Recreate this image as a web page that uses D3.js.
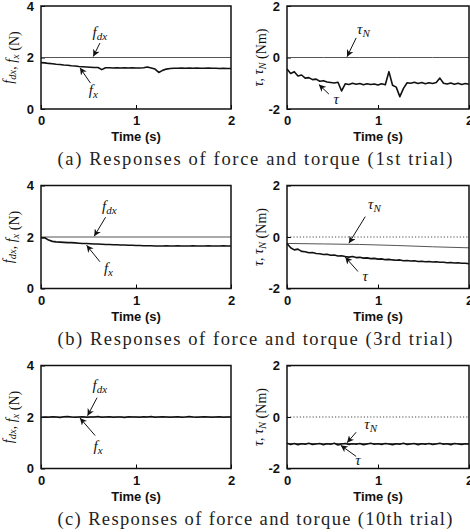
<!DOCTYPE html>
<html>
<head>
<meta charset="utf-8">
<script src="https://cdn.jsdelivr.net/npm/d3@7"></script>
<style>
  body { margin: 0; background: #fff; }
  svg { display: block; }
</style>
</head>
<body>
<div id="vis"></div>
<script>
// sample times (s)
let time = [
  0.00, 0.04, 0.08, 0.12, 0.16, 0.20, 0.24, 0.28, 0.32, 0.36,
  0.40, 0.44, 0.48, 0.52, 0.56, 0.60, 0.64, 0.68, 0.72, 0.76,
  0.80, 0.84, 0.88, 0.92, 0.96, 1.00, 1.04, 1.08, 1.12, 1.16,
  1.20, 1.24, 1.28, 1.32, 1.36, 1.40, 1.44, 1.48, 1.52, 1.56,
  1.60, 1.64, 1.68, 1.72, 1.76, 1.80, 1.84, 1.88, 1.92, 1.96,
  2.00
];
let refTime = [0.0, 0.4, 0.8, 1.2, 1.6, 2.0];

// (a) 1st trial
let fxA = [
  1.80, 1.79, 1.77, 1.76, 1.74, 1.73, 1.71, 1.70, 1.68, 1.67,
  1.65, 1.64, 1.63, 1.62, 1.61, 1.61, 1.53, 1.60, 1.60, 1.59,
  1.60, 1.59, 1.60, 1.59, 1.60, 1.59, 1.59, 1.60, 1.63, 1.59,
  1.55, 1.42, 1.50, 1.55, 1.57, 1.58, 1.58, 1.59, 1.58, 1.59,
  1.58, 1.59, 1.58, 1.58, 1.59, 1.58, 1.58, 1.57, 1.58, 1.57,
  1.57
];
let fdxA = [2.0, 2.0, 2.0, 2.0, 2.0, 2.0];
let tauA = [
  -0.45, -0.62, -0.55, -0.72, -0.68, -0.80, -0.78, -0.86, -0.84, -0.92,
  -0.90, -0.95, -0.97, -0.99, -0.96, -1.30, -1.02, -1.05, -1.00, -1.04,
  -1.01, -1.06, -1.02, -1.05, -1.03, -1.07, -1.02, -1.06, -0.55, -1.08,
  -1.15, -1.52, -1.20, -0.98, -1.00, -0.96, -1.01, -0.97, -1.02, -0.98,
  -1.01, -0.97, -0.80, -1.00, -1.03, -0.99, -1.04, -1.00, -1.05, -1.01,
  -1.04
];
let tauNA = [0.0, 0.0, 0.0, 0.0, 0.0, 0.0];

// (b) 3rd trial
let fxB = [
  1.96, 1.97, 1.88, 1.83, 1.81, 1.80, 1.79, 1.78, 1.78, 1.77,
  1.76, 1.75, 1.75, 1.74, 1.73, 1.73, 1.72, 1.71, 1.71, 1.70,
  1.70, 1.69, 1.69, 1.68, 1.68, 1.67, 1.67, 1.66, 1.66, 1.66,
  1.65, 1.65, 1.65, 1.66, 1.65, 1.65, 1.66, 1.65, 1.65, 1.65,
  1.66, 1.65, 1.65, 1.65, 1.66, 1.65, 1.65, 1.65, 1.66, 1.65,
  1.65
];
let fdxB = [2.0, 2.0, 2.0, 2.0, 2.0, 2.0];
let tauB = [
  -0.25, -0.42, -0.50, -0.47, -0.56, -0.57, -0.61, -0.60, -0.64, -0.65,
  -0.68, -0.67, -0.71, -0.70, -0.74, -0.73, -0.76, -0.78, -0.76, -0.80,
  -0.79, -0.82, -0.81, -0.84, -0.83, -0.86, -0.85, -0.88, -0.87, -0.89,
  -0.90, -0.89, -0.92, -0.91, -0.93, -0.92, -0.95, -0.94, -0.96, -0.95,
  -0.97, -0.96, -0.98, -0.98, -1.00, -0.99, -1.01, -1.00, -1.02, -1.02,
  -1.04
];
let tauNB = [-0.25, -0.27, -0.29, -0.33, -0.38, -0.42];

// (c) 10th trial
let fxC = [
  1.98, 2.00, 1.99, 2.01, 2.00, 1.98, 2.01, 2.02, 2.00, 1.99,
  2.00, 2.01, 1.99, 2.00, 2.00, 2.02, 1.99, 2.00, 2.01, 1.99,
  2.00, 2.00, 1.98, 2.01, 2.00, 2.00, 1.99, 2.01, 2.00, 2.02,
  1.99, 2.00, 2.01, 2.00, 1.99, 2.00, 2.01, 1.99, 2.00, 2.02,
  2.00, 1.99, 2.00, 2.01, 2.00, 1.99, 2.00, 2.01, 1.99, 2.00,
  2.00
];
let fdxC = [2.0, 2.0, 2.0, 2.0, 2.0, 2.0];
let tauC = [
  -1.02, -1.07, -1.03, -1.08, -1.04, -1.06, -1.02, -1.07, -1.05, -1.03,
  -1.08, -1.04, -1.06, -1.02, -1.09, -1.05, -1.03, -1.07, -1.04, -1.06,
  -1.03, -1.08, -1.05, -1.02, -1.06, -1.04, -1.07, -1.03, -1.05, -1.08,
  -1.04, -1.06, -1.02, -1.07, -1.05, -1.03, -1.08, -1.04, -1.06, -1.03,
  -1.07, -1.05, -1.02, -1.06, -1.04, -1.08, -1.03, -1.05, -1.07, -1.04,
  -1.06
];
let tauNC = [-1.03, -1.03, -1.03, -1.03, -1.03, -1.03];

let timeTicks = [0, 1, 2];
let forceTicks = [0, 2, 4];
let torqueTicks = [-2, 0, 2];
let captions = [
  "(a)  Responses of force and torque (1st trial)",
  "(b)  Responses of force and torque (3rd trial)",
  "(c)  Responses of force and torque (10th trial)"
];

let width = 470, height = 532;
let rowTop = [6, 185.5, 365.5], ph = 103;

let svg = d3.select('#vis')
  .append('svg')
  .attr('width', width)
  .attr('height', height)
  .style('background-color', 'white');

svg.append('defs').append('marker')
  .attr('id', 'arr')
  .attr('viewBox', '0 0 10 10')
  .attr('refX', 10).attr('refY', 5)
  .attr('markerWidth', 7).attr('markerHeight', 7)
  .attr('markerUnits', 'userSpaceOnUse')
  .attr('orient', 'auto')
  .append('path')
  .attr('d', 'M0,0 L10,5 L0,10 L3,5 Z')
  .attr('fill', '#111');

function drawPanel(top, xr, yDomain, yTicks, measured, ref, dottedZero, labelX, yLabel, notes) {
  let x = d3.scaleLinear().domain([0, 2]).range(xr);
  let y = d3.scaleLinear().domain(yDomain).range([top + ph, top]);
  let g = svg.append('g');

  g.append('g')
    .attr('transform', `translate(0, ${top + ph})`)
    .call(d3.axisBottom(x).tickValues(timeTicks).tickSize(-4).tickPadding(7).tickFormat(d3.format('d')))
    .call(a => a.select('.domain').remove())
    .call(a => a.selectAll('text').attr('font-family', 'Liberation Sans, Arial, sans-serif')
      .attr('font-weight', 'bold').attr('font-size', 13).attr('fill', '#111'));

  g.append('g')
    .attr('transform', `translate(${xr[0]}, 0)`)
    .call(d3.axisLeft(y).tickValues(yTicks).tickSize(-4).tickPadding(7).tickFormat(d => d < 0 ? '-' + Math.abs(d) : d))
    .call(a => a.select('.domain').remove())
    .call(a => a.selectAll('text').attr('font-family', 'Liberation Sans, Arial, sans-serif')
      .attr('font-weight', 'bold').attr('font-size', 13).attr('fill', '#111'));

  if (dottedZero) {
    g.append('line')
      .attr('x1', x(0)).attr('x2', x(2))
      .attr('y1', y(0)).attr('y2', y(0))
      .attr('stroke', '#333').attr('stroke-width', 0.9)
      .attr('stroke-dasharray', '1.2,2');
  }

  g.append('path')
    .datum(ref)
    .attr('fill', 'none')
    .attr('stroke', '#555')
    .attr('stroke-width', 1)
    .attr('d', d3.line().x((d, i) => x(refTime[i])).y(d => y(d)));

  g.append('path')
    .datum(measured)
    .attr('fill', 'none')
    .attr('stroke', '#111')
    .attr('stroke-width', 1.6)
    .attr('stroke-linejoin', 'round')
    .attr('d', d3.line().x((d, i) => x(time[i])).y(d => y(d)));

  g.append('rect')
    .attr('x', xr[0]).attr('y', top)
    .attr('width', xr[1] - xr[0]).attr('height', ph)
    .attr('fill', 'none')
    .attr('stroke', '#111')
    .attr('stroke-width', 1.5);

  g.append('text')
    .attr('x', (xr[0] + xr[1]) / 2)
    .attr('y', top + ph + 32)
    .attr('text-anchor', 'middle')
    .attr('font-family', 'Liberation Sans, Arial, sans-serif')
    .attr('font-weight', 'bold')
    .attr('font-size', 13)
    .attr('fill', '#111')
    .text('Time (s)');

  // rotated y label, built from parts [text, subscript]
  let yl = g.append('text')
    .attr('transform', `translate(${labelX}, ${top + ph / 2}) rotate(-90)`)
    .attr('text-anchor', 'middle')
    .attr('font-family', 'Liberation Serif, Times New Roman, serif')
    .attr('font-size', 14)
    .attr('fill', '#111');
  yLabel.forEach(p => {
    yl.append('tspan').attr('font-style', p[2] ? 'italic' : 'normal').text(p[0]);
    if (p[1]) {
      yl.append('tspan').attr('font-size', 10.5).attr('font-style', 'italic').attr('dy', 3).text(p[1]);
      yl.append('tspan').attr('dy', -3).text('');
    }
  });

  notes.forEach(n => {
    g.append('line')
      .attr('x1', x(n.from[0])).attr('y1', y(n.from[1]))
      .attr('x2', x(n.to[0])).attr('y2', y(n.to[1]))
      .attr('stroke', '#111').attr('stroke-width', 1)
      .attr('marker-end', 'url(#arr)');
    let t = g.append('text')
      .attr('x', x(n.at[0])).attr('y', y(n.at[1]) + 4)
      .attr('text-anchor', 'middle')
      .attr('font-family', 'Liberation Serif, Times New Roman, serif')
      .attr('font-style', 'italic')
      .attr('font-size', 15)
      .attr('fill', '#111');
    t.append('tspan').text(n.label[0]);
    if (n.label[1]) t.append('tspan').attr('font-size', 11).attr('dy', 3).text(n.label[1]);
  });
}

let forceLabel = [['f', 'dx', true], [', ', null, false], ['f', 'x', true], [' (N)', null, false]];
let torqueLabel = [['τ', null, true], [', ', null, false], ['τ', 'N', true], [' (Nm)', null, false]];

let leftX = [41, 231], rightX = [287, 469];

let rows = [
  {
    f: fxA, fd: fdxA, tau: tauA, tn: tauNA, dotted: false,
    fNotes: [
      { label: ['f', 'dx'], at: [0.62, 2.95], from: [0.62, 2.56], to: [0.55, 2.04] },
      { label: ['f', 'x'], at: [0.55, 0.70], from: [0.52, 1.01], to: [0.41, 1.60] }
    ],
    tNotes: [
      { label: ['τ', 'N'], at: [0.84, 1.07], from: [0.76, 0.76], to: [0.66, 0.03] },
      { label: ['τ', null], at: [0.54, -1.65], from: [0.46, -1.42], to: [0.35, -1.05] }
    ]
  },
  {
    f: fxB, fd: fdxB, tau: tauB, tn: tauNB, dotted: true,
    fNotes: [
      { label: ['f', 'dx'], at: [0.72, 3.15], from: [0.68, 2.77], to: [0.56, 2.03] },
      { label: ['f', 'x'], at: [0.71, 0.77], from: [0.62, 1.04], to: [0.48, 1.68] }
    ],
    tNotes: [
      { label: ['τ', 'N'], at: [0.96, 1.26], from: [0.86, 0.79], to: [0.68, -0.24] },
      { label: ['τ', null], at: [0.86, -1.57], from: [0.78, -1.34], to: [0.64, -0.78] }
    ]
  },
  {
    f: fxC, fd: fdxC, tau: tauC, tn: tauNC, dotted: true,
    fNotes: [
      { label: ['f', 'dx'], at: [0.62, 3.22], from: [0.59, 2.75], to: [0.49, 2.05] },
      { label: ['f', 'x'], at: [0.60, 0.82], from: [0.57, 1.28], to: [0.41, 1.96] }
    ],
    tNotes: [
      { label: ['τ', 'N'], at: [0.92, -0.31], from: [0.76, -0.59], to: [0.66, -1.0] },
      { label: ['τ', null], at: [0.78, -1.69], from: [0.76, -1.53], to: [0.59, -1.1] }
    ]
  }
];

rows.forEach((r, i) => {
  let top = rowTop[i];
  drawPanel(top, leftX, [0, 4], forceTicks, r.f, r.fd, false, 13, forceLabel, r.fNotes);
  drawPanel(top, rightX, [-2, 2], torqueTicks, r.tau, r.tn, r.dotted, 263, torqueLabel, r.tNotes);

  svg.append('text')
    .attr('x', 255)
    .attr('y', top + ph + 56)
    .attr('text-anchor', 'middle')
    .attr('font-family', 'Liberation Serif, Times New Roman, serif')
    .attr('font-size', 18.5)
    .attr('fill', '#222')
    .attr('textLength', 395)
    .attr('lengthAdjust', 'spacing')
    .text(captions[i]);
});
</script>
</body>
</html>
